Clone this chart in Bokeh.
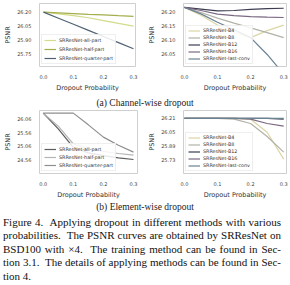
from bokeh.plotting import figure
from bokeh.models import Range1d, FixedTicker, PrintfTickFormatter, Legend, LegendItem, Div
from bokeh.layouts import column, row
from bokeh.embed import file_html
from bokeh.resources import INLINE

# ---------------- data ----------------
x_vals = [0.0, 0.05, 0.1, 0.15, 0.2, 0.25, 0.3]
x_ticks = [0.0, 0.1, 0.2, 0.3]

part_labels = ["SRResNet-all-part", "SRResNet-half-part", "SRResNet-quarter-part"]
block_labels = ["SRResNet-B4", "SRResNet-B8", "SRResNet-B12", "SRResNet-B16", "SRResNet-last-conv"]

# (a) channel-wise dropout, part methods
cw_all_part = [26.20, 26.182, 26.163, 26.14, 26.11, 26.08, 26.05]
cw_half_part = [26.20, 26.193, 26.185, 26.177, 26.17, 26.162, 26.155]
cw_quarter_part = [26.20, 26.135, 26.07, 26.005, 25.94, 25.875, 25.81]
cw_part_yticks = [25.75, 25.90, 26.05, 26.20]

# (a) channel-wise dropout, block methods
cw_b4 = [26.218, 26.19, 26.155, 26.13, 26.11, 26.135, 26.155]
cw_b8 = [26.218, 26.20, 26.18, 26.162, 26.145, 26.128, 26.11]
cw_b12 = [26.218, 26.212, 26.206, 26.207, 26.211, 26.214, 26.215]
cw_b16 = [26.218, 26.207, 26.194, 26.189, 26.185, 26.183, 26.182]
cw_last_conv = [26.218, 26.195, 26.165, 26.138, 26.11, 26.05, 25.98]
cw_block_yticks = [26.05, 26.10, 26.15, 26.20]

# (b) element-wise dropout, part methods
ew_all_part = [26.28, 25.70, 25.02, 24.82, 24.72, 24.64, 24.58]
ew_half_part = [26.28, 25.80, 25.15, 24.98, 24.88, 24.80, 24.74]
ew_quarter_part = [26.28, 26.28, 26.28, 25.85, 25.40, 25.10, 24.85]
ew_part_yticks = [24.56, 25.06, 25.56, 26.06]

# (b) element-wise dropout, block methods
ew_b4 = [26.21, 26.21, 26.21, 26.21, 26.20, 26.05, 25.74]
ew_b8 = [26.21, 26.21, 26.21, 26.20, 26.15, 26.00, 25.82]
ew_b12 = [26.21, 26.21, 26.21, 26.21, 26.21, 26.21, 26.20]
ew_b16 = [26.21, 26.21, 26.21, 26.21, 26.20, 26.15, 26.12]
ew_last_conv = [26.21, 26.21, 26.21, 26.21, 26.21, 26.21, 26.21]
ew_block_yticks = [25.73, 25.89, 26.05, 26.21]

subcaption_a = "(a) Channel-wise dropout"
subcaption_b = "(b) Element-wise dropout"
caption_lines = [
    "Figure 4.&nbsp; Applying dropout in different methods with various",
    "probabilities.&nbsp; The PSNR curves are obtained by SRResNet on",
    "BSD100 with \u00d74.&nbsp; The training method can be found in Sec-",
    "tion 3.1.&nbsp; The details of applying methods can be found in Sec-",
    "tion 4.",
]

# ---------------- styles ----------------
cw_part_colors = ["#d3db8c", "#a4ae4c", "#4f6273"]
ew_part_colors = ["#5c5c5c", "#b4b4b4", "#8e8e8e"]
block_colors = ["#dcd5a6", "#b2b2a8", "#3c3c52", "#7a6883", "#6a8292"]

SANS = "DejaVu Sans"


def make_fig(w, h, xr, yr, bl, br, bt, bb, yticks):
    p = figure(width=w, height=h, x_range=Range1d(*xr), y_range=Range1d(*yr),
               output_backend="svg", toolbar_location=None,
               min_border_left=bl, min_border_right=br, min_border_top=bt, min_border_bottom=bb)
    p.xgrid.visible = False
    p.ygrid.visible = False
    p.outline_line_color = "#cfcfcf"
    p.outline_line_width = 1
    p.background_fill_color = "white"
    p.border_fill_color = "white"
    p.xaxis.ticker = FixedTicker(ticks=x_ticks)
    p.xaxis.formatter = PrintfTickFormatter(format="%.1f")
    p.yaxis.ticker = FixedTicker(ticks=yticks)
    p.yaxis.formatter = PrintfTickFormatter(format="%.2f")
    p.xaxis.axis_label = "Dropout Probability"
    p.yaxis.axis_label = "PSNR"
    for ax in (p.xaxis[0], p.yaxis[0]):
        ax.axis_line_color = None
        ax.major_tick_line_color = None
        ax.minor_tick_line_color = None
        ax.major_label_text_font = SANS
        ax.major_label_text_font_size = "5px"
        ax.major_label_text_color = "#444444"
        ax.major_label_standoff = 2
        ax.axis_label_text_font = SANS
        ax.axis_label_text_font_size = "6.5px"
        ax.axis_label_text_font_style = "normal"
        ax.axis_label_text_color = "#333333"
        ax.axis_label_standoff = 2
    return p


def add_lines(p, series, labels, colors, item_h, spacing):
    items = []
    for ys, lab, col in zip(series, labels, colors):
        r = p.line(x_vals, ys, line_color=col, line_width=1.2)
        items.append(LegendItem(label=lab, renderers=[r]))
    lg = Legend(items=items, location="bottom_left")
    lg.label_text_font = SANS
    lg.label_text_font_size = "4.8px"
    lg.label_text_color = "#333333"
    lg.glyph_width = 12
    lg.glyph_height = item_h
    lg.label_height = item_h
    lg.spacing = spacing
    lg.padding = 2
    lg.margin = 2
    lg.label_standoff = 3
    lg.background_fill_alpha = 0.85
    lg.border_line_color = "#dddddd"
    lg.border_line_width = 1
    p.add_layout(lg)


# top row
p_tl = make_fig(145, 94, (-0.0133, 0.3067), (25.62, 26.292), 39, 10, 3, 18, cw_part_yticks)
add_lines(p_tl, [cw_all_part, cw_half_part, cw_quarter_part], part_labels, cw_part_colors, 6, 3)

p_tr = make_fig(145, 94, (-0.0028, 0.3085), (26.007, 26.232), 31, 4, 3, 18, cw_block_yticks)
add_lines(p_tr, [cw_b4, cw_b8, cw_b12, cw_b16, cw_last_conv], block_labels, block_colors, 5, 2)

# bottom row
p_bl = make_fig(145, 93, (-0.0123, 0.3133), (24.066, 26.376), 39, 8, 2, 18, ew_part_yticks)
add_lines(p_bl, [ew_all_part, ew_half_part, ew_quarter_part], part_labels, ew_part_colors, 6, 2)

p_br = make_fig(145, 93, (-0.0028, 0.3085), (25.574, 26.30), 31, 4, 2, 18, ew_block_yticks)
add_lines(p_br, [ew_b4, ew_b8, ew_b12, ew_b16, ew_last_conv], block_labels, block_colors, 5, 2)

SERIF = "'Liberation Serif', 'Times New Roman', serif"

div_a = Div(
    text=(f'<div style="font-family:{SERIF};font-size:9.5px;color:#222;'
          f'text-align:center;line-height:14px;width:290px;">{subcaption_a}</div>'),
    width=290, height=14, margin=0)

cap_html = (f'<div style="font-family:{SERIF};font-size:9.5px;color:#222;'
            f'text-align:center;line-height:13px;width:290px;">{subcaption_b}</div>')
cap_html += f'<div style="font-family:{SERIF};font-size:11px;color:#111;line-height:13.5px;' \
            f'width:284px;padding:1.5px 3px 0 3px;">'
for i, ln in enumerate(caption_lines):
    if i < len(caption_lines) - 1:
        cap_html += f'<div style="text-align:justify;text-align-last:justify;">{ln}</div>'
    else:
        cap_html += f'<div style="text-align:left;">{ln}</div>'
cap_html += '</div>'

div_cap = Div(text=cap_html, width=290, height=84, margin=0)

layout = column(row(p_tl, p_tr, spacing=0), div_a, row(p_bl, p_br, spacing=0), div_cap, spacing=0)

open("out.html", "w").write(file_html(layout, INLINE))
